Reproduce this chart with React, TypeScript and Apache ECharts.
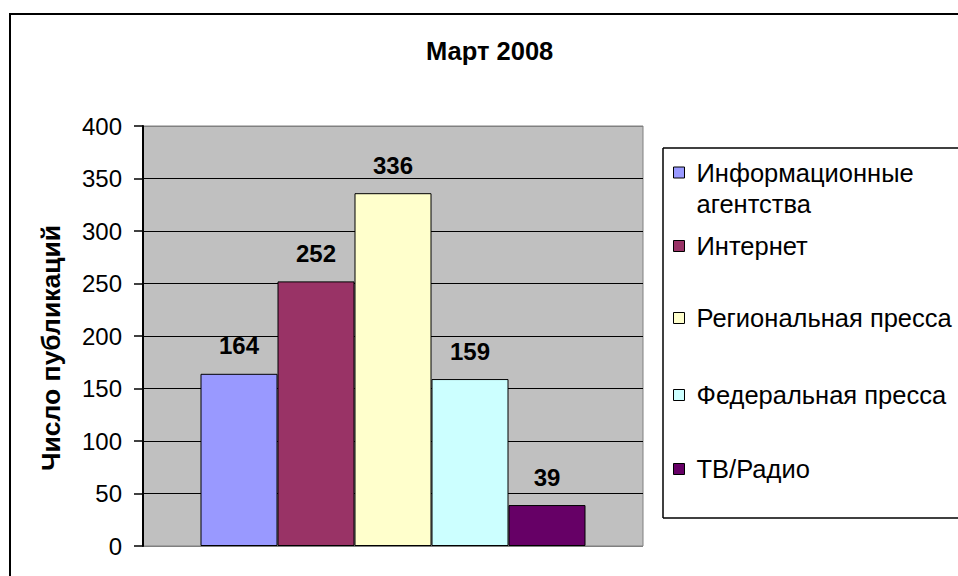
import React, { useEffect, useRef } from 'react';
import * as echarts from 'echarts';

const categories = ['Март 2008'];
const seriesNames = ['Информационные агентства', 'Интернет', 'Региональная пресса', 'Федеральная пресса', 'ТВ/Радио'];
const seriesValues = [164, 252, 336, 159, 39];
const seriesColors = ['#9999FF', '#993366', '#FFFFCC', '#CCFFFF', '#660066'];
const yMin = 0;
const yMax = 400;
const yInterval = 50;
const titleText = 'Март 2008';
const yAxisName = 'Число публикаций';

const FONT = 'Arial, "Liberation Sans", sans-serif';
const legendCenters = [172.5, 246, 318, 395, 469];
const LEGEND_LH = 31;

export default function App() {
  const ref = useRef<HTMLDivElement>(null);
  useEffect(() => {
    if (!ref.current) return;
    const chart = echarts.init(ref.current, null, { renderer: 'svg' });
    const nLines = (yMax - yMin) / yInterval + 1;
    const splitColors = Array.from({ length: nLines }, (_, i) => (i === 0 || i === nLines - 1 ? '#808080' : '#000000'));
    chart.setOption({
      animation: false,
      backgroundColor: '#ffffff',
      textStyle: { fontFamily: FONT },
      title: {
        text: titleText,
        left: 426,
        top: 37.75,
        padding: 0,
        textStyle: { fontSize: 25.5, fontWeight: 'bold', color: '#000', fontFamily: FONT, lineHeight: 25.5 },
      },
      graphic: [
        {
          type: 'line',
          silent: true,
          z: 0,
          shape: { x1: 10, y1: 14, x2: 958, y2: 14 },
          style: { stroke: '#000', lineWidth: 2 },
        },
        {
          type: 'line',
          silent: true,
          z: 0,
          shape: { x1: 10, y1: 13, x2: 10, y2: 576 },
          style: { stroke: '#000', lineWidth: 2 },
        },
        {
          type: 'line',
          silent: true,
          z: 1,
          shape: { x1: 663, y1: 148, x2: 958, y2: 148 },
          style: { stroke: '#000', lineWidth: 1.5 },
        },
        {
          type: 'line',
          silent: true,
          z: 1,
          shape: { x1: 663, y1: 148, x2: 663, y2: 518 },
          style: { stroke: '#000', lineWidth: 1.5 },
        },
        {
          type: 'line',
          silent: true,
          z: 1,
          shape: { x1: 663, y1: 518, x2: 958, y2: 518 },
          style: { stroke: '#000', lineWidth: 1.5 },
        },
        {
          type: 'text',
          silent: true,
          z: 5,
          x: 51,
          y: 348,
          rotation: Math.PI / 2,
          style: {
            text: yAxisName,
            align: 'center',
            verticalAlign: 'middle',
            fontSize: 26.5,
            fontWeight: 'bold',
            fontFamily: FONT,
            fill: '#000',
          },
        },
      ],
      legend: seriesNames.map((name, i) => ({
        data: [name],
        orient: 'vertical',
        left: 673,
        top: i === 0 ? legendCenters[i] - LEGEND_LH * 1.5 : legendCenters[i] - LEGEND_LH / 2,
        padding: 0,
        itemWidth: 11,
        itemHeight: 11,
        icon: 'rect',
        selectedMode: false,
        z: 5,
        itemStyle: { borderColor: '#000', borderWidth: 1 },
        formatter: (n: string) => (n.indexOf(' агентства') >= 0 ? '\n' + n.replace(' агентства', '\nагентства') : n),
        textStyle: {
          fontSize: 25.5,
          color: '#000',
          fontFamily: FONT,
          lineHeight: LEGEND_LH,
          padding: [0, 0, 0, 7],
        },
      })),
      grid: {
        left: 143,
        top: 126,
        width: 500,
        height: 420,
        show: true,
        backgroundColor: '#C0C0C0',
        borderColor: '#808080',
        borderWidth: 1,
        outerBoundsMode: 'none',
      },
      xAxis: {
        type: 'category',
        data: categories,
        axisLine: { show: false },
        axisTick: { show: false },
        axisLabel: { show: false },
        splitLine: { show: false },
      },
      yAxis: {
        type: 'value',
        min: yMin,
        max: yMax,
        interval: yInterval,
        axisLine: { show: true, lineStyle: { color: '#000', width: 2 } },
        axisTick: { show: true, inside: false, length: 9, lineStyle: { color: '#000', width: 1.5 } },
        axisLabel: { fontSize: 24, color: '#000', margin: 21, fontFamily: FONT },
        splitLine: { show: true, lineStyle: { color: splitColors, width: 1 } },
      },
      series: seriesNames.map((name, i) => ({
        type: 'bar',
        name,
        data: [seriesValues[i]],
        barGap: '0%',
        barCategoryGap: '23%',
        itemStyle: { color: seriesColors[i], borderColor: '#000', borderWidth: 1 },
        label: {
          show: true,
          position: 'top',
          distance: 16,
          fontSize: 24,
          fontWeight: 'bold',
          color: '#000',
          fontFamily: FONT,
        },
      })),
    });
    return () => chart.dispose();
  }, []);
  return <div ref={ref} style={{ position: 'fixed', left: 0, top: 0, width: 958, height: 576 }} />;
}
